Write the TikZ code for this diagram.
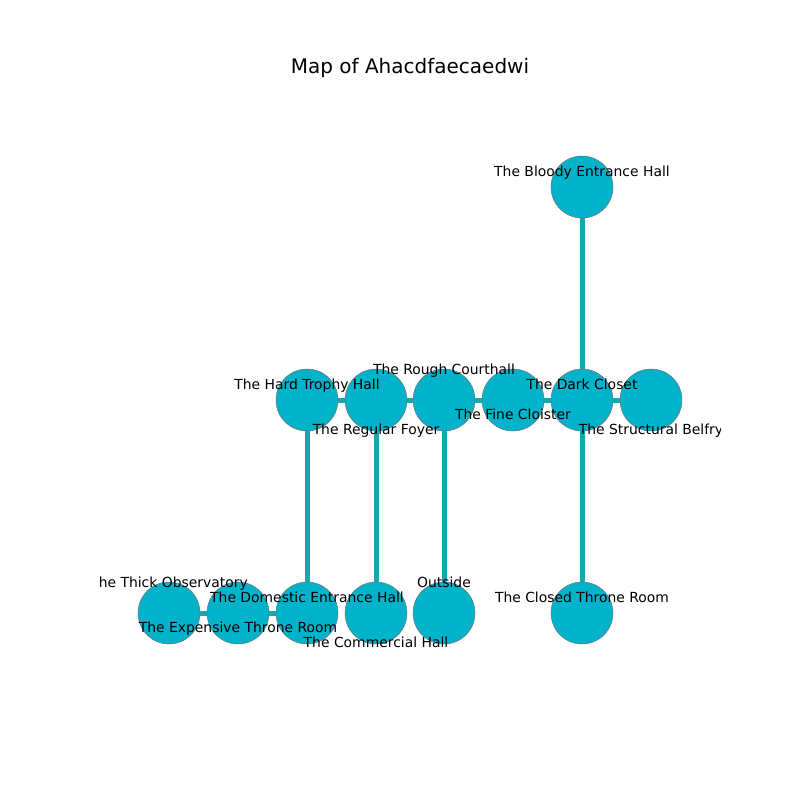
\documentclass[tikz,border=0pt]{standalone}
\usepackage{fontspec}
\setmainfont{DejaVu Sans}
\definecolor{nodefill}{HTML}{00B2CA}
\definecolor{edgecol}{HTML}{14A9AF}
\begin{document}
\begin{tikzpicture}[x=1pt,y=-1pt,
  room/.style={circle,minimum size=62pt,inner sep=0pt,fill=nodefill,draw=black!55,line width=0.5pt},
  lbl/.style={inner sep=0pt,font=\fontsize{13.9}{14}\selectfont,text height=10.5pt,text depth=3.2pt,anchor=center},
  link/.style={draw=edgecol,line width=5pt}]
\useasboundingbox (0,0) rectangle (800,800);
\fill[white] (0,0) rectangle (800,800);
\node[inner sep=0pt,font=\fontsize{20}{21}\selectfont,text height=15pt,text depth=4.6pt] (title) at (410,68) {Map of Ahacdfaecaedwi};
% node positions
\coordinate (pBloody) at (582,187);
\coordinate (pHard) at (307,400);
\coordinate (pRegular) at (376,400);
\coordinate (pRough) at (444,400);
\coordinate (pFine) at (513,400);
\coordinate (pDark) at (582,400);
\coordinate (pBelfry) at (651,400);
\coordinate (pThick) at (169,613);
\coordinate (pExpensive) at (238,613);
\coordinate (pDomestic) at (307,613);
\coordinate (pCommercial) at (376,613);
\coordinate (pOutside) at (444,613);
\coordinate (pClosed) at (582,613);
% edges
\draw[link] (pBloody) -- (pDark);
\draw[link] (pHard) -- (pRegular);
\draw[link] (pRegular) -- (pRough);
\draw[link] (pRough) -- (pFine);
\draw[link] (pFine) -- (pDark);
\draw[link] (pDark) -- (pBelfry);
\draw[link] (pHard) -- (pDomestic);
\draw[link] (pRegular) -- (pCommercial);
\draw[link] (pRough) -- (pOutside);
\draw[link] (pDark) -- (pClosed);
\draw[link] (pThick) -- (pExpensive);
\draw[link] (pExpensive) -- (pDomestic);
% nodes
\node[room] (Bloody) at (pBloody) {};
\node[room] (Hard) at (pHard) {};
\node[room] (Regular) at (pRegular) {};
\node[room] (Rough) at (pRough) {};
\node[room] (Fine) at (pFine) {};
\node[room] (Dark) at (pDark) {};
\node[room] (Belfry) at (pBelfry) {};
\node[room] (Thick) at (pThick) {};
\node[room] (Expensive) at (pExpensive) {};
\node[room] (Domestic) at (pDomestic) {};
\node[room] (Commercial) at (pCommercial) {};
\node[room] (Outside) at (pOutside) {};
\node[room] (Closed) at (pClosed) {};
% labels
\begin{scope}[yshift=-2pt]
\clip (100,96) rectangle (720,712);
\node[lbl] (lBloody) at (582,171) {The Bloody Entrance Hall};
\node[lbl] (lHard) at (307,384) {The Hard Trophy Hall};
\node[lbl] (lRegular) at (376,429) {The Regular Foyer};
\node[lbl] (lRough) at (444,369) {The Rough Courthall};
\node[lbl] (lFine) at (513,414) {The Fine Cloister};
\node[lbl] (lDark) at (582,384) {The Dark Closet};
\node[lbl] (lBelfry) at (651,429) {The Structural Belfry};
\node[lbl] (lThick) at (169,582) {The Thick Observatory};
\node[lbl] (lExpensive) at (238,627) {The Expensive Throne Room};
\node[lbl] (lDomestic) at (307,597) {The Domestic Entrance Hall};
\node[lbl] (lCommercial) at (376,642) {The Commercial Hall};
\node[lbl] (lOutside) at (444,582) {Outside};
\node[lbl] (lClosed) at (582,597) {The Closed Throne Room};
\end{scope}
\end{tikzpicture}
\end{document}
